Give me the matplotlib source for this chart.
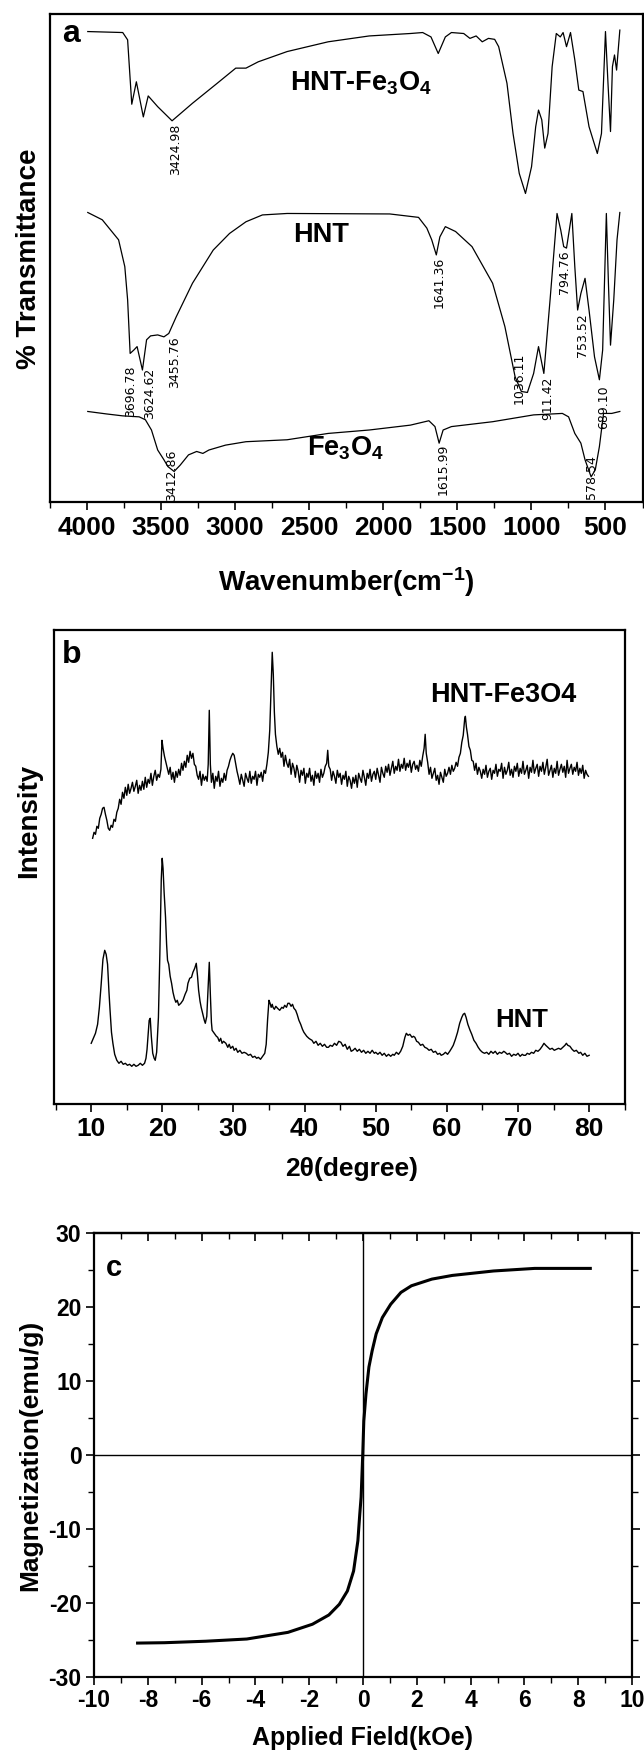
import matplotlib
matplotlib.use("Agg")
import matplotlib.pyplot as plt
from matplotlib.ticker import MultipleLocator

FONT = ['Liberation Sans', 'DejaVu Sans']
plt.rcParams['font.family'] = FONT
plt.rcParams['font.weight'] = 'bold'
plt.rcParams['axes.labelweight'] = 'bold'
plt.rcParams['mathtext.fontset'] = 'custom'
plt.rcParams['mathtext.rm'] = 'Liberation Sans:bold'
plt.rcParams['mathtext.bf'] = 'Liberation Sans:bold'
plt.rcParams['mathtext.it'] = 'Liberation Sans:bold'

# ---- (a) FTIR, wavenumber (cm-1) vs transmittance (a.u., 0-100)
ftir_fe_hnt_wn = [3995, 3759, 3726, 3698, 3667, 3620, 3587, 3523, 3426, 3288, 3121, 2996, 2927, 2844,
                  2649, 2372, 2095, 1817, 1734, 1678, 1629, 1581, 1540, 1457, 1415, 1373, 1332, 1290,
                  1248, 1221, 1165, 1124, 1082, 1040, 999, 971, 952, 930, 910, 888, 860, 832, 805,
                  786, 763, 736, 707, 680, 652, 611, 555, 527, 500, 483, 466, 453, 439, 425, 403]
ftir_fe_hnt_t = [96.4, 96.2, 94.7, 81.5, 86.1, 78.9, 83.2, 81.0, 78.1, 81.7, 85.8, 88.9, 88.9, 90.2,
                 92.3, 94.3, 95.5, 96.0, 96.2, 95.3, 91.9, 95.3, 96.2, 96.0, 95.0, 95.5, 94.3, 95.0,
                 94.8, 93.3, 85.8, 75.5, 67.3, 63.2, 68.7, 76.9, 80.3, 78.3, 72.5, 75.5, 89.2, 96.0, 95.3,
                 96.2, 93.3, 96.2, 90.6, 84.4, 84.1, 76.9, 71.4, 75.5, 96.4, 85.8, 75.9, 89.2, 91.6, 88.5, 96.7]

ftir_hnt_wn = [3995, 3897, 3787, 3745, 3726, 3709, 3684, 3662, 3626, 3598, 3571, 3523, 3481, 3448,
               3398, 3288, 3148, 3038, 2927, 2816, 2649, 1956, 1762, 1706, 1673, 1642, 1618, 1581,
               1512, 1401, 1262, 1179, 1110, 1068, 1027, 985, 952, 916, 874, 827, 802, 782, 763,
               727, 707, 688, 666, 638, 611, 574, 541, 519, 494, 480, 466, 444, 422, 403]
ftir_hnt_t = [59.3, 57.8, 53.7, 48.2, 41.4, 30.4, 31.1, 31.8, 27.0, 33.2, 34.0, 34.2, 33.8, 34.5,
              37.9, 44.8, 51.6, 55.0, 57.4, 58.8, 59.1, 59.0, 58.3, 56.1, 53.7, 50.6, 54.3, 56.4,
              55.4, 52.3, 44.8, 35.9, 25.6, 22.6, 22.4, 26.3, 31.8, 26.3, 41.4, 59.1, 55.7, 52.3, 52.0,
              59.1, 48.2, 39.3, 42.7, 45.8, 39.3, 29.7, 25.0, 31.1, 59.1, 44.8, 32.1, 41.4, 53.7, 59.3]

ftir_fe_wn = [3995, 3870, 3759, 3648, 3606, 3565, 3523, 3481, 3454, 3412, 3371, 3315, 3260, 3218,
              3177, 3065, 2927, 2649, 2372, 2095, 1817, 1692, 1651, 1623, 1596, 1540, 1262, 985,
              791, 749, 707, 666, 638, 597, 569, 541, 513, 458, 403]
ftir_fe_t = [18.5, 18.0, 17.6, 17.4, 16.8, 14.7, 10.6, 8.6, 7.2, 6.2, 7.5, 9.6, 10.3, 9.9,
             10.6, 11.6, 12.3, 12.7, 14.0, 14.7, 15.7, 16.6, 15.4, 12.0, 14.7, 15.4, 16.4, 17.8,
             18.1, 17.4, 14.0, 12.0, 8.6, 5.1, 6.5, 11.3, 18.1, 18.1, 18.5]

peak_text = ['3424.98', '3696.78', '3624.62', '3455.76', '1641.36', '1036.11', '911.42',
             '794.76', '753.52', '689.10', '3412.86', '1615.99', '578.54']
peak_wn = [3404, 3709, 3578, 3412, 1623, 1082, 888, 777, 658, 513, 3426, 1596, 596]
peak_t = [77.6, 28.0, 27.4, 33.8, 50.2, 30.5, 25.6, 51.6, 38.7, 23.9, 10.6, 12.0, 9.6]

ftir_ticks = [4000, 3500, 3000, 2500, 2000, 1500, 1000, 500]

# ---- (b) XRD, 2theta vs intensity (a.u.)
xrd_fe_x = [10.2, 10.4, 10.6, 10.8, 11.0, 11.2, 11.4, 11.6, 11.8, 12.0, 12.2, 12.4, 12.6, 12.8, 13.0,
            13.2, 13.4, 13.6, 13.8, 14.0, 14.2, 14.4, 14.6, 14.8, 15.0, 15.2, 15.4, 15.6, 15.8, 16.0,
            16.2, 16.4, 16.6, 16.8, 17.0, 17.2, 17.4, 17.6, 17.8, 18.0, 18.2, 18.4, 18.6, 18.8, 19.0,
            19.2, 19.4, 19.6, 19.8, 19.95, 20.1, 20.3, 20.5, 20.7, 20.9, 21.1, 21.3, 21.5, 21.7, 21.9,
            22.1, 22.3, 22.5, 22.7, 22.9, 23.1, 23.3, 23.5, 23.7, 23.9, 24.1, 24.3, 24.5, 24.7, 24.9,
            25.1, 25.3, 25.5, 25.7, 25.9, 26.1, 26.3, 26.45, 26.6, 26.75, 26.9, 27.1, 27.3, 27.5, 27.7,
            27.9, 28.1, 28.3, 28.5, 28.7, 28.9, 29.1, 29.3, 29.5, 29.7, 29.9, 30.1, 30.3, 30.5, 30.7,
            30.9, 31.1, 31.3, 31.5, 31.7, 31.9, 32.1, 32.3, 32.5, 32.7, 32.9, 33.1, 33.3, 33.5, 33.7,
            33.9, 34.1, 34.3, 34.5, 34.7, 34.9, 35.1, 35.3, 35.45, 35.6, 35.75, 35.9, 36.1, 36.3, 36.5,
            36.7, 36.9, 37.1, 37.3, 37.5, 37.7, 37.9, 38.1, 38.3, 38.5, 38.7, 38.9, 39.1, 39.3, 39.5,
            39.7, 39.9, 40.1, 40.3, 40.5, 40.7, 40.9, 41.1, 41.3, 41.5, 41.7, 41.9, 42.1, 42.3, 42.5,
            42.7, 42.9, 43.1, 43.25, 43.4, 43.6, 43.8, 44.0, 44.2, 44.4, 44.6, 44.8, 45.0, 45.2, 45.4,
            45.6, 45.8, 46.0, 46.2, 46.4, 46.6, 46.8, 47.0, 47.2, 47.4, 47.6, 47.8, 48.0, 48.2, 48.4,
            48.6, 48.8, 49.0, 49.2, 49.4, 49.6, 49.8, 50.0, 50.2, 50.4, 50.6, 50.8, 51.0, 51.2, 51.4,
            51.6, 51.8, 52.0, 52.2, 52.4, 52.6, 52.8, 53.0, 53.2, 53.4, 53.6, 53.8, 54.0, 54.2, 54.4,
            54.6, 54.8, 55.0, 55.2, 55.4, 55.6, 55.8, 56.0, 56.2, 56.4, 56.6, 56.8, 56.95, 57.1, 57.3,
            57.5, 57.7, 57.9, 58.1, 58.3, 58.5, 58.7, 58.9, 59.1, 59.3, 59.5, 59.7, 59.9, 60.1, 60.3,
            60.5, 60.7, 60.9, 61.1, 61.3, 61.5, 61.7, 61.9, 62.1, 62.3, 62.5, 62.6, 62.75, 62.9, 63.1,
            63.3, 63.5, 63.7, 63.9, 64.1, 64.3, 64.5, 64.7, 64.9, 65.1, 65.3, 65.5, 65.7, 65.9, 66.1,
            66.3, 66.5, 66.7, 66.9, 67.1, 67.3, 67.5, 67.7, 67.9, 68.1, 68.3, 68.5, 68.7, 68.9, 69.1,
            69.3, 69.5, 69.7, 69.9, 70.1, 70.3, 70.5, 70.7, 70.9, 71.1, 71.3, 71.5, 71.7, 71.9, 72.1,
            72.3, 72.5, 72.7, 72.9, 73.1, 73.3, 73.5, 73.7, 73.9, 74.1, 74.3, 74.5, 74.7, 74.9, 75.1,
            75.3, 75.5, 75.7, 75.9, 76.1, 76.3, 76.5, 76.7, 76.9, 77.1, 77.3, 77.5, 77.7, 77.9, 78.1,
            78.3, 78.5, 78.7, 78.9, 79.1, 79.3, 79.5, 79.7, 79.9]
xrd_fe_i = [266, 272, 270, 278, 276, 286, 290, 296, 297, 290, 284, 276, 274, 279, 277,
            285, 283, 292, 296, 305, 300, 312, 306, 317, 309, 320, 311, 316, 322, 313,
            318, 324, 311, 319, 314, 323, 315, 327, 317, 325, 321, 331, 319, 328, 334,
            324, 330, 327, 335, 364, 356, 348, 342, 336, 330, 337, 325, 332, 322, 333,
            327, 335, 329, 341, 334, 343, 337, 349, 342, 353, 346, 351, 340, 338, 329,
            325, 333, 319, 330, 324, 328, 323, 340, 394, 340, 322, 331, 316, 328, 323,
            333, 318, 326, 322, 331, 324, 334, 338, 344, 348, 351, 349, 341, 333, 327,
            320, 330, 324, 318, 331, 326, 322, 333, 321, 328, 325, 333, 319, 330, 327,
            332, 323, 334, 331, 340, 352, 374, 418, 452, 430, 392, 370, 358, 350, 356,
            347, 352, 338, 349, 341, 337, 345, 330, 341, 336, 327, 339, 333, 322, 334,
            329, 336, 321, 331, 327, 336, 323, 329, 319, 333, 326, 331, 322, 335, 327,
            331, 338, 341, 354, 338, 335, 324, 333, 328, 321, 334, 327, 331, 320, 329,
            325, 333, 318, 328, 324, 316, 327, 321, 329, 317, 331, 326, 322, 334, 327,
            319, 331, 326, 335, 323, 330, 333, 325, 336, 329, 322, 337, 331, 327, 338,
            332, 340, 329, 336, 343, 331, 338, 334, 345, 333, 340, 336, 346, 334, 341,
            337, 344, 332, 340, 343, 335, 339, 333, 344, 338, 348, 356, 370, 351, 342,
            330, 337, 326, 331, 336, 324, 329, 320, 332, 327, 322, 335, 328, 331, 337,
            330, 339, 333, 336, 342, 338, 347, 351, 362, 369, 385, 388, 377, 370, 358,
            354, 344, 343, 334, 341, 330, 337, 333, 326, 335, 330, 339, 327, 333, 336,
            325, 334, 331, 340, 328, 335, 333, 341, 326, 337, 330, 334, 342, 329, 335,
            327, 338, 333, 341, 328, 336, 331, 343, 330, 334, 339, 326, 337, 332, 344,
            331, 336, 340, 328, 338, 333, 342, 330, 337, 345, 329, 334, 339, 327, 336,
            331, 343, 329, 335, 340, 332, 338, 327, 344, 331, 336, 340, 330, 337, 333,
            342, 329, 336, 331, 339, 326, 334, 330, 328]

xrd_hnt_x = [10.0, 10.3, 10.6, 10.9, 11.15, 11.4, 11.65, 11.9, 12.1, 12.3, 12.5, 12.65, 12.85, 13.05,
             13.3, 13.6, 13.9, 14.2, 14.5, 14.8, 15.1, 15.4, 15.7, 16.0, 16.3, 16.6, 16.9, 17.2, 17.5,
             17.7, 17.85, 18.0, 18.15, 18.3, 18.45, 18.65, 18.85, 19.0, 19.2, 19.45, 19.65, 19.85,
             19.98, 20.1, 20.25, 20.45, 20.6, 20.73, 20.9, 21.1, 21.3, 21.5, 21.7, 21.9, 22.1, 22.3,
             22.6, 22.9, 23.2, 23.45, 23.6, 23.85, 24.1, 24.3, 24.55, 24.77, 24.95, 25.1, 25.3, 25.46,
             25.7, 25.9, 26.04, 26.25, 26.45, 26.6, 26.75, 26.9, 27.0, 27.2, 27.4, 27.6, 27.78, 28.0,
             28.2, 28.4, 28.6, 28.93, 29.2, 29.4, 29.6, 29.9, 30.1, 30.36, 30.6, 30.9, 31.2, 31.5,
             31.8, 32.1, 32.4, 32.7, 33.0, 33.26, 33.5, 33.8, 34.1, 34.4, 34.6, 34.8, 34.99, 35.15,
             35.3, 35.45, 35.56, 35.75, 35.95, 36.2, 36.5, 36.8, 37.0, 37.2, 37.45, 37.65, 37.87, 38.1,
             38.3, 38.5, 38.74, 38.95, 39.2, 39.45, 39.7, 39.9, 40.1, 40.3, 40.6, 40.8, 41.04, 41.3,
             41.6, 41.9, 42.2, 42.5, 42.8, 43.1, 43.35, 43.6, 43.9, 44.2, 44.5, 44.8, 45.1, 45.4,
             45.7, 46.0, 46.3, 46.55, 46.8, 47.1, 47.4, 47.7, 48.0, 48.3, 48.6, 48.9, 49.2, 49.5,
             49.8, 50.0, 50.3, 50.6, 50.9, 51.2, 51.5, 51.8, 52.1, 52.4, 52.6, 52.9, 53.2, 53.5,
             53.8, 54.1, 54.3, 54.55, 54.8, 55.1, 55.3, 55.5, 55.75, 56.0, 56.3, 56.6, 56.9, 57.2,
             57.5, 57.8, 58.1, 58.4, 58.7, 59.0, 59.2, 59.5, 59.8, 60.1, 60.4, 60.66, 60.9, 61.2,
             61.5, 61.8, 62.1, 62.3, 62.5, 62.7, 62.95, 63.26, 63.5, 63.8, 64.1, 64.4, 64.7, 65.0,
             65.3, 65.6, 65.9, 66.2, 66.5, 66.8, 67.1, 67.4, 67.7, 68.0, 68.2, 68.5, 68.8, 69.1,
             69.4, 69.7, 70.0, 70.3, 70.6, 70.8, 71.06, 71.3, 71.6, 71.9, 72.2, 72.5, 72.8, 73.1,
             73.4, 73.65, 73.9, 74.2, 74.5, 74.8, 75.1, 75.4, 75.7, 76.0, 76.3, 76.6, 76.8, 77.0,
             77.3, 77.6, 77.9, 78.2, 78.55, 78.8, 79.1, 79.4, 79.7, 80.0]
xrd_hnt_i = [61, 66, 71, 80, 97, 120, 145, 154, 150, 140, 112, 94, 72, 61,
             50, 44, 41, 43, 40, 41, 39, 40, 38, 40, 38, 39, 41, 39, 41,
             46, 55, 70, 84, 86, 68, 51, 46, 44, 52, 87, 150, 225,
             246, 236, 212, 187, 160, 144, 140, 128, 121, 112, 106, 102, 104, 99,
             101, 104, 110, 114, 121, 126, 127, 132, 136, 141, 128, 114, 103, 97,
             90, 84, 81, 88, 120, 142, 110, 82, 74, 72, 70, 68, 67, 63,
             66, 61, 63, 61, 57, 60, 56, 58, 54, 56, 52, 54, 51, 52,
             51, 49, 50, 47, 48, 46, 47, 45, 48, 51, 60, 85, 104, 101,
             97, 100, 97, 95, 98, 96, 94, 97, 96, 99, 97, 101, 101, 98,
             100, 96, 94, 90, 84, 80, 75, 72, 70, 68, 66, 65, 64, 61,
             63, 59, 61, 58, 60, 57, 57, 59, 58, 61, 59, 63, 62, 58,
             60, 55, 58, 53, 54, 56, 53, 55, 52, 54, 51, 53, 51, 54,
             51, 52, 50, 52, 49, 51, 48, 50, 48, 50, 49, 52, 50, 53,
             58, 67, 71, 69, 70, 67, 68, 67, 63, 62, 59, 60, 57, 56,
             54, 55, 52, 53, 50, 51, 49, 50, 52, 50, 53, 56, 59, 65,
             72, 81, 87, 90, 91, 87, 80, 74, 70, 64, 61, 57, 54, 52,
             51, 52, 50, 53, 51, 53, 50, 52, 51, 53, 52, 50, 51, 48,
             50, 49, 51, 48, 50, 49, 49, 51, 50, 52, 51, 54, 53, 55,
             58, 61, 59, 57, 55, 56, 54, 55, 56, 55, 57, 59, 61, 59,
             58, 55, 53, 54, 51, 52, 49, 51, 48, 49]

xrd_ticks = [10, 20, 30, 40, 50, 60, 70, 80]

# ---- (c) M-H loop
field_koe = [-8.38, -7.38, -5.85, -4.32, -2.79, -1.88, -1.27, -0.88, -0.58, -0.35, -0.19, -0.12,
             -0.07, -0.01, 0.03, 0.11, 0.22, 0.34, 0.49, 0.72, 1.03, 1.41, 1.80, 2.56, 3.32,
             4.85, 6.38, 8.45]
magnet = [-25.45, -25.4, -25.2, -24.9, -24.0, -22.9, -21.65, -20.2, -18.4, -15.7, -11.6, -8.0,
          -5.7, 0.0, 4.6, 8.25, 11.9, 14.1, 16.4, 18.6, 20.4, 22.0, 22.9, 23.8, 24.3,
          24.9, 25.25, 25.25]
field_ticks = [-10, -8, -6, -4, -2, 0, 2, 4, 6, 8, 10]
magnet_ticks = [-30, -20, -10, 0, 10, 20, 30]

W, H = 644, 1752
fig = plt.figure(figsize=(W / 100, H / 100), dpi=100)
BOLD = dict(fontweight='bold', family=FONT)


def box(l, t, r, b):
    return [l / W, 1 - b / H, (r - l) / W, (b - t) / H]


def fpos(x, y):
    return (x / W, 1 - y / H)


# ---------------- panel a
ax = fig.add_axes(box(50, 14, 642.5, 501.7))
ax.plot(ftir_fe_hnt_wn, ftir_fe_hnt_t, color='k', lw=0.9)
ax.plot(ftir_hnt_wn, ftir_hnt_t, color='k', lw=0.9)
ax.plot(ftir_fe_wn, ftir_fe_t, color='k', lw=0.9)
ax.set_xlim(4250, 250)
ax.set_ylim(0, 100)
ax.set_xticks(ftir_ticks, [str(v) for v in ftir_ticks], fontsize=19, **BOLD)
ax.xaxis.set_minor_locator(MultipleLocator(250))
ax.set_yticks([])
ax.tick_params(axis='x', which='major', direction='out', length=6, width=1.2, pad=4)
ax.tick_params(axis='x', which='minor', direction='out', length=4, width=1.0)
for s in ax.spines.values():
    s.set_linewidth(1.6)
for txt, wn, t in zip(peak_text, peak_wn, peak_t):
    ax.text(wn, t, txt, rotation=90, ha='center', va='top', fontsize=9,
            family='DejaVu Sans', fontweight='normal')
ax.text(2153, 84.4, r'HNT-Fe$_{3}$O$_{4}$', ha='center', va='baseline', fontsize=19.5, **BOLD)
ax.text(2423, 53.3, 'HNT', ha='center', va='baseline', fontsize=19.5, **BOLD)
ax.text(2254, 9.5, r'Fe$_{3}$O$_{4}$', ha='center', va='baseline', fontsize=19.5, **BOLD)
ax.text(0.02, 0.943, 'a', transform=ax.transAxes, ha='left', va='baseline', fontsize=23, **BOLD)
ax.set_xlabel(r'Wavenumber(cm$^{-1}$)', fontsize=20, **BOLD)
ax.xaxis.set_label_coords(*fpos(346, 565), transform=fig.transFigure)
ax.set_ylabel('% Transmittance', fontsize=20, **BOLD)
ax.yaxis.set_label_coords(*fpos(42, 258.5), transform=fig.transFigure)

# ---------------- panel b
bx = fig.add_axes(box(54, 630, 624.7, 1104.3))
bx.plot(xrd_fe_x, xrd_fe_i, color='k', lw=1.0)
bx.plot(xrd_hnt_x, xrd_hnt_i, color='k', lw=1.0)
bx.set_xlim(4.77, 85)
bx.set_ylim(0, 474.3)
bx.set_xticks(xrd_ticks, [str(v) for v in xrd_ticks], fontsize=19, **BOLD)
bx.xaxis.set_minor_locator(MultipleLocator(5))
bx.set_yticks([])
bx.tick_params(axis='x', which='major', direction='out', length=5.5, width=1.2, pad=4)
bx.tick_params(axis='x', which='minor', direction='out', length=4, width=1.0)
for s in bx.spines.values():
    s.set_linewidth(1.6)
bx.text(67.9, 402, 'HNT-Fe3O4', ha='center', va='baseline', fontsize=19.5, **BOLD)
bx.text(70.5, 77, 'HNT', ha='center', va='baseline', fontsize=18.5, **BOLD)
bx.text(0.014, 0.930, 'b', transform=bx.transAxes, ha='left', va='baseline', fontsize=23, **BOLD)
bx.set_xlabel('2θ(degree)', fontsize=19, **BOLD)
bx.xaxis.set_label_coords(*fpos(352, 1157), transform=fig.transFigure)
bx.set_ylabel('Intensity', fontsize=20, **BOLD)
bx.yaxis.set_label_coords(*fpos(42, 821), transform=fig.transFigure)

# ---------------- panel c
cx = fig.add_axes(box(94, 1233.3, 632, 1676.7))
cx.axhline(0, color='k', lw=1.0)
cx.axvline(0, color='k', lw=1.0)
cx.plot(field_koe, magnet, color='k', lw=2.2)
cx.set_xlim(-10, 10)
cx.set_ylim(-30, 30)
cx.set_xticks(field_ticks, [str(v) for v in field_ticks], fontsize=16.5, **BOLD)
cx.set_yticks(magnet_ticks, [str(v) for v in magnet_ticks], fontsize=16.5, **BOLD)
cx.xaxis.set_minor_locator(MultipleLocator(1))
cx.yaxis.set_minor_locator(MultipleLocator(5))
cx.tick_params(axis='both', which='major', direction='out', length=6, width=1.2, pad=3)
cx.tick_params(axis='both', which='minor', direction='out', length=4, width=1.0)
cx.tick_params(axis='y', right=True, which='both')
top = cx.secondary_xaxis('top')
top.set_xticks(field_ticks)
top.xaxis.set_minor_locator(MultipleLocator(1))
top.tick_params(axis='x', which='major', direction='in', length=6, width=1.2, labeltop=False)
top.tick_params(axis='x', which='minor', direction='in', length=4, width=1.0)
for s in list(cx.spines.values()) + list(top.spines.values()):
    s.set_linewidth(1.6)
cx.text(0.022, 0.904, 'c', transform=cx.transAxes, ha='left', va='baseline', fontsize=21, **BOLD)
cx.set_xlabel('Applied Field(kOe)', fontsize=18, **BOLD)
cx.xaxis.set_label_coords(*fpos(362, 1726), transform=fig.transFigure)
cx.set_ylabel('Magnetization(emu/g)', fontsize=19, **BOLD)
cx.yaxis.set_label_coords(*fpos(42, 1455), transform=fig.transFigure)

fig.savefig('out.png', dpi=100)
